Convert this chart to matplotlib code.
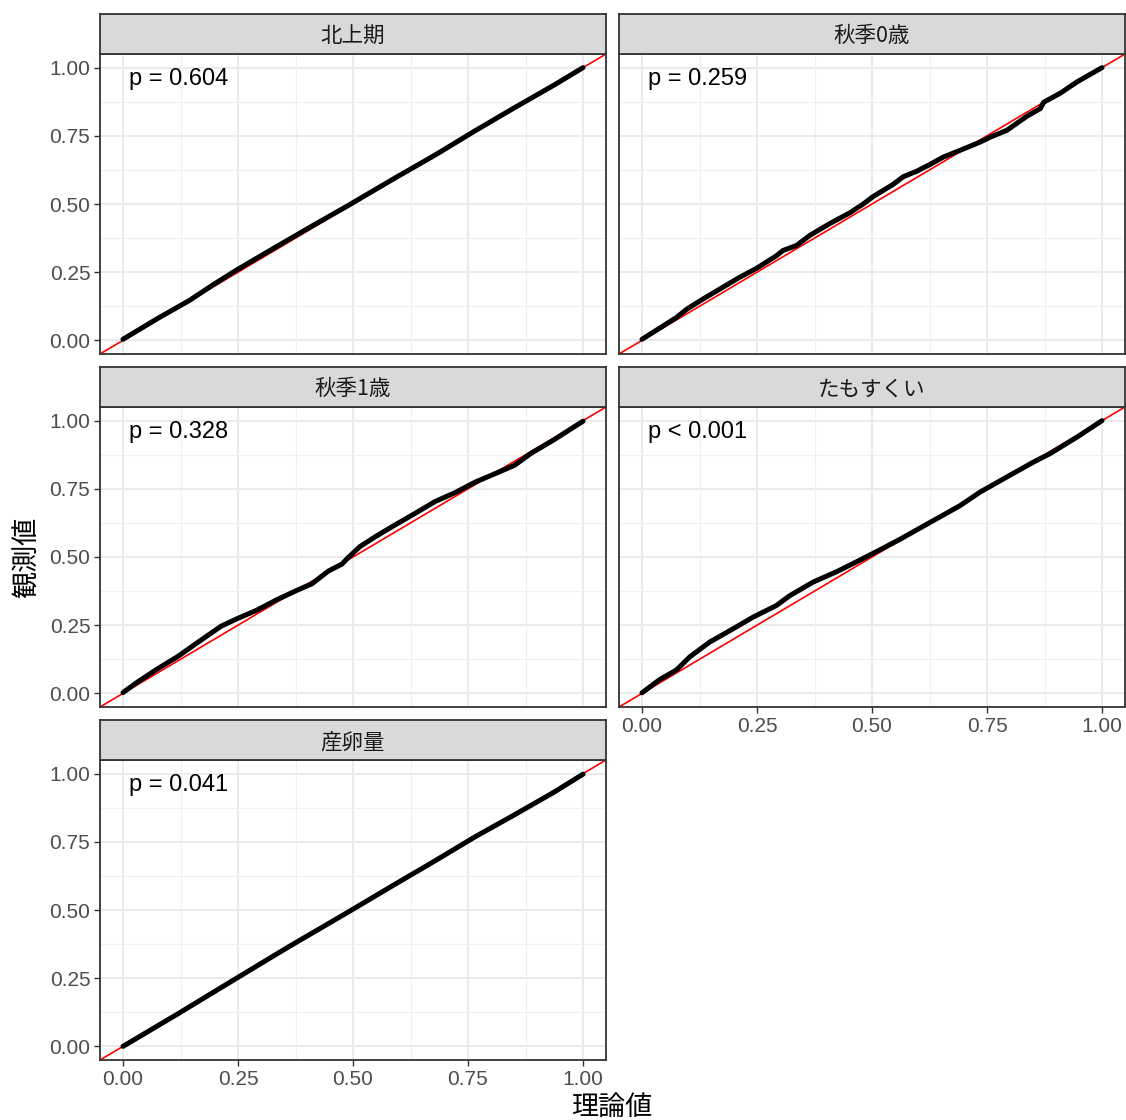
import matplotlib
matplotlib.use("Agg")
import matplotlib.pyplot as plt

plt.rcParams['font.family'] = ['Liberation Sans', 'Noto Sans CJK JP', 'DejaVu Sans']

panel_titles = ["北上期", "秋季0歳", "秋季1歳", "たもすくい", "産卵量"]
p_labels = ["p = 0.604", "p = 0.259", "p = 0.328", "p < 0.001", "p = 0.041"]

kitakami_x = [0.0, 0.075, 0.144, 0.196, 0.247, 0.334, 0.42, 0.489, 0.592, 0.678, 0.765, 0.851, 0.937, 1.0]
kitakami_y = [0.004, 0.080, 0.146, 0.204, 0.258, 0.344, 0.428, 0.494, 0.596, 0.679, 0.768, 0.853, 0.936, 1.0]

aki0_x = [0.0, 0.046, 0.075, 0.097, 0.133, 0.176, 0.213, 0.249, 0.292, 0.307, 0.336, 0.365, 0.408,
          0.452, 0.481, 0.503, 0.546, 0.568, 0.597, 0.626, 0.655, 0.699, 0.735, 0.757, 0.793,
          0.837, 0.866, 0.873, 0.909, 0.946, 1.0]
aki0_y = [0.004, 0.053, 0.084, 0.114, 0.152, 0.195, 0.232, 0.264, 0.310, 0.330, 0.348, 0.385, 0.428,
          0.468, 0.500, 0.528, 0.572, 0.600, 0.620, 0.645, 0.672, 0.702, 0.727, 0.745, 0.770,
          0.822, 0.850, 0.873, 0.906, 0.948, 1.0]

aki1_x = [0.0, 0.032, 0.075, 0.118, 0.161, 0.213, 0.247, 0.291, 0.334, 0.377, 0.411, 0.446, 0.476,
          0.489, 0.515, 0.549, 0.592, 0.635, 0.678, 0.722, 0.765, 0.808, 0.851, 0.886, 0.937, 1.0]
aki1_y = [0.003, 0.042, 0.090, 0.134, 0.185, 0.246, 0.273, 0.305, 0.343, 0.377, 0.402, 0.448, 0.474,
          0.497, 0.538, 0.575, 0.618, 0.660, 0.703, 0.736, 0.774, 0.805, 0.836, 0.879, 0.930, 0.998]

tamo_x = [0.0, 0.038, 0.075, 0.104, 0.147, 0.191, 0.242, 0.292, 0.321, 0.372, 0.423, 0.466, 0.510,
          0.561, 0.619, 0.691, 0.735, 0.800, 0.851, 0.888, 0.946, 1.0]
tamo_y = [0.002, 0.050, 0.086, 0.134, 0.188, 0.230, 0.280, 0.322, 0.358, 0.408, 0.446, 0.482, 0.520,
          0.565, 0.620, 0.688, 0.738, 0.800, 0.848, 0.880, 0.940, 1.0]

sanran_x = [0.0, 0.118, 0.247, 0.359, 0.489, 0.592, 0.678, 0.765, 0.851, 0.937, 1.0]
sanran_y = [0.0, 0.118, 0.250, 0.364, 0.492, 0.595, 0.680, 0.768, 0.849, 0.932, 0.998]

series = [(kitakami_x, kitakami_y), (aki0_x, aki0_y), (aki1_x, aki1_y),
          (tamo_x, tamo_y), (sanran_x, sanran_y)]

ticks = [0.0, 0.25, 0.5, 0.75, 1.0]
tick_labels = ["0.00", "0.25", "0.50", "0.75", "1.00"]
minor = [0.125, 0.375, 0.625, 0.875]
xlabel = "理論値"
ylabel = "観測値"

# ---- layout (pixels) ----
W, H = 1126, 1120
fig = plt.figure(figsize=(W / 100, H / 100), dpi=100)

cols = [(100, 606), (619, 1125)]
rows = [(54, 354), (407, 707), (760, 1060)]
strip_h = 40
CJK = ['Noto Sans CJK JP', 'DejaVu Sans']

def fx(px):
    return px / W

def fy(py):
    return 1 - py / H

for i, (title, plab, (xs, ys)) in enumerate(zip(panel_titles, p_labels, series)):
    r, c = divmod(i, 2)
    x0, x1 = cols[c]
    y0, y1 = rows[r]
    ax = fig.add_axes([fx(x0), fy(y1), (x1 - x0) / W, (y1 - y0) / H])
    ax.set_xlim(-0.05, 1.05)
    ax.set_ylim(-0.05, 1.05)
    ax.set_facecolor("white")
    for t in ticks:
        ax.axhline(t, color="#EBEBEB", lw=1.4, zorder=0)
        ax.axvline(t, color="#EBEBEB", lw=1.4, zorder=0)
    for t in minor:
        ax.axhline(t, color="#F0F0F0", lw=0.8, zorder=0)
        ax.axvline(t, color="#F0F0F0", lw=0.8, zorder=0)
    ax.plot([-0.05, 1.05], [-0.05, 1.05], color="red", lw=1.2, zorder=2)
    ax.plot(xs, ys, color="black", lw=3.6, solid_capstyle="round",
            solid_joinstyle="round", zorder=3)
    ax.text(0.012, 0.96, plab, fontsize=17, color="black", ha="left", va="center")
    for s in ax.spines.values():
        s.set_color("#333333")
        s.set_linewidth(1.3)
    ax.set_xticks(ticks)
    ax.set_yticks(ticks)
    ax.tick_params(colors="#333333", length=4, width=1.0, labelcolor="#4D4D4D",
                   labelsize=15, pad=3)
    if c == 0:
        ax.set_yticklabels(tick_labels)
    else:
        ax.tick_params(axis="y", length=0, labelleft=False)
    if i in (3, 4):
        ax.set_xticklabels(tick_labels)
    else:
        ax.tick_params(axis="x", length=0, labelbottom=False)

    # strip
    sax = fig.add_axes([fx(x0), fy(y0), (x1 - x0) / W, strip_h / H])
    sax.set_xlim(0, 1)
    sax.set_ylim(0, 1)
    sax.set_facecolor("#D9D9D9")
    sax.set_xticks([])
    sax.set_yticks([])
    for s in sax.spines.values():
        s.set_color("#333333")
        s.set_linewidth(1.3)
    sax.text(0.5, 0.44, title, fontsize=15.5, color="#1A1A1A", ha="center", va="center",
             family=CJK)

fig.text(fx(612), fy(1107), xlabel, fontsize=19.5, ha="center", va="center", family=CJK)
fig.text(fx(27), fy(557), ylabel, fontsize=19.5, ha="center", va="center", rotation=90,
         family=CJK)

fig.savefig("out.png", dpi=100, facecolor="white")
